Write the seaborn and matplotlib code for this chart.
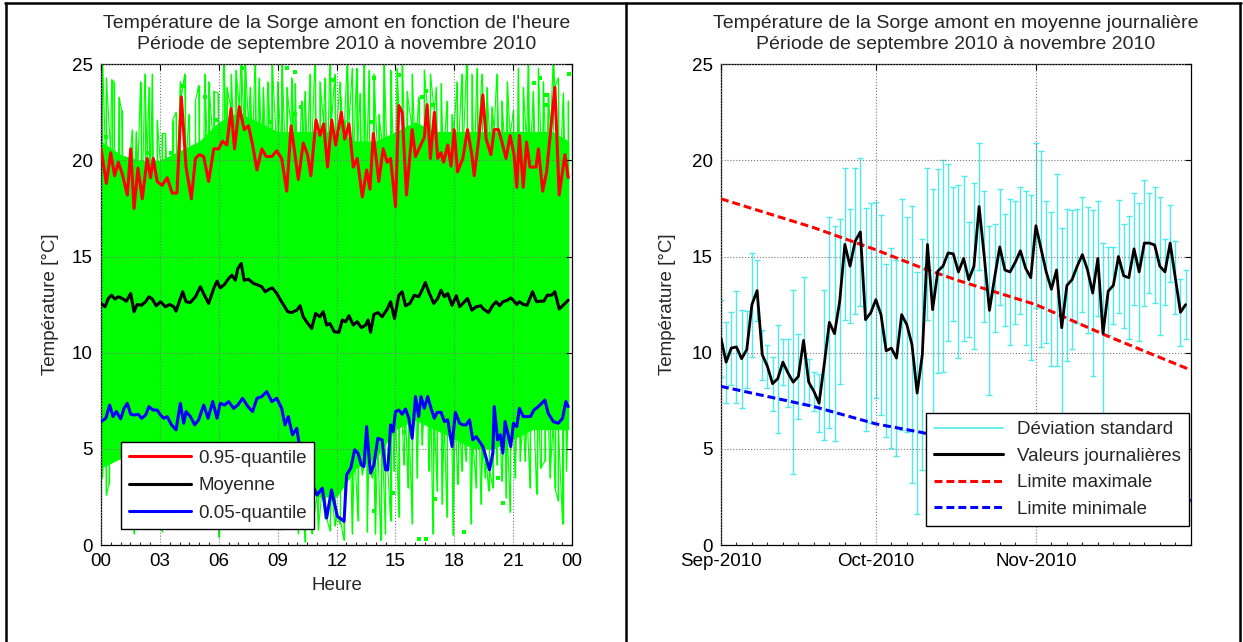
import matplotlib
matplotlib.use('Agg')
import matplotlib.pyplot as plt
import matplotlib.dates as mdates
from matplotlib.lines import Line2D
from matplotlib.ticker import MultipleLocator
import seaborn as sns
import numpy as np
import pandas as pd

# ── Data ─────────────────────────────────────────────────────────────────────
# Left panel: hourly profile (hours of day, °C)
q95_hours = [0.0, 0.27, 0.49, 0.69, 0.88, 1.08, 1.34, 1.51, 1.68, 1.88, 2.10, 2.35, 2.52, 2.66,
             2.86, 3.11, 3.37, 3.62, 3.87, 4.09, 4.33, 4.60, 4.81, 5.01, 5.23, 5.48, 5.74, 5.99,
             6.19, 6.41, 6.62, 6.80, 7.04, 7.29, 7.51, 7.72, 7.94, 8.19, 8.41, 8.70, 8.95, 9.20,
             9.46, 9.68, 9.88, 10.05, 10.30, 10.52, 10.69, 10.95, 11.15, 11.34, 11.54, 11.75, 11.95,
             12.24, 12.41, 12.63, 12.85, 13.05, 13.31, 13.53, 13.70, 13.87, 14.15, 14.37, 14.58,
             14.75, 15.0, 15.17, 15.34, 15.56, 15.85, 16.02, 16.24, 16.47, 16.61, 16.78, 16.98,
             17.15, 17.32, 17.45, 17.66, 17.83, 17.99, 18.16, 18.43, 18.67, 18.89, 19.01, 19.23,
             19.45, 19.62, 19.86, 20.03, 20.25, 20.41, 20.63, 20.84, 21.04, 21.18, 21.31, 21.51,
             21.68, 21.85, 22.16, 22.28, 22.50, 22.70, 22.90, 23.12, 23.34, 23.63, 23.80]
q95_temp = [20.6, 18.8, 20.4, 19.2, 19.9, 19.3, 18.2, 20.6, 17.5, 19.6, 18.0, 20.1, 19.1, 20.1,
            18.9, 18.7, 19.1, 18.3, 18.3, 23.3, 19.65, 18.0, 20.1, 20.3, 20.2, 18.9, 20.6, 20.6,
            21.0, 20.8, 22.7, 20.6, 22.8, 21.6, 21.8, 20.8, 19.5, 20.6, 20.2, 20.2, 20.5, 20.1,
            18.4, 21.8, 20.3, 19.0, 20.9, 20.3, 19.2, 22.1, 21.3, 21.9, 19.65, 22.1, 20.8,
            22.5, 21.1, 21.9, 19.65, 20.1, 18.1, 19.5, 18.5, 21.4, 18.9, 20.6, 19.9,
            20.1, 17.6, 22.85, 22.5, 18.2, 21.6, 20.2, 20.7, 21.2, 22.9, 20.1, 22.5,
            20.1, 20.4, 19.9, 20.8, 19.7, 21.6, 19.4, 20.1, 21.6, 20.3, 19.2, 21.0,
            23.4, 21.1, 20.3, 21.6, 21.6, 21.0, 20.1, 21.3, 20.3, 18.6, 21.3, 18.6,
            20.95, 19.65, 19.65, 20.6, 18.4, 19.4, 21.5, 23.8, 18.2, 20.3, 19.1]

mean_hours = [0.0, 0.20, 0.37, 0.54, 0.71, 0.88, 1.08, 1.29, 1.51, 1.68, 1.84, 2.06, 2.27, 2.44,
              2.61, 2.81, 3.03, 3.28, 3.49, 3.71, 3.82, 4.04, 4.16, 4.33, 4.55, 4.81, 5.06, 5.28,
              5.48, 5.74, 5.91, 6.07, 6.29, 6.50, 6.67, 6.84, 6.97, 7.14, 7.29, 7.51, 7.77, 8.02,
              8.19, 8.36, 8.56, 8.73, 8.95, 9.20, 9.51, 9.71, 9.97, 10.14, 10.30, 10.47, 10.73,
              10.93, 11.15, 11.32, 11.49, 11.66, 11.88,
              12.12, 12.29, 12.46, 12.63, 12.85, 13.05, 13.26, 13.48, 13.60, 13.73, 13.90, 14.10,
              14.32, 14.58, 14.75, 14.95, 15.17, 15.34, 15.51, 15.73, 15.96, 16.18, 16.35, 16.52,
              16.69, 16.95, 17.15, 17.32, 17.49, 17.66, 17.88, 18.10, 18.27, 18.43, 18.67, 18.89,
              19.11, 19.35, 19.48, 19.74, 19.96, 20.13, 20.30, 20.47, 20.70, 20.87, 21.04, 21.18,
              21.31, 21.51, 21.71, 21.98, 22.19, 22.39, 22.56, 22.73, 22.95, 23.12, 23.34, 23.54,
              23.80]
mean_temp = [12.56, 12.39, 12.82, 12.99, 12.79, 12.91, 12.82, 12.68, 13.08, 12.13, 12.51, 12.47,
             12.65, 12.91, 12.79, 12.44, 12.65, 12.39, 12.51, 12.39, 12.16, 12.82, 13.17, 12.65,
             12.61, 12.91, 13.43, 12.96, 12.56, 13.34, 13.72, 13.37, 13.55, 13.86, 14.03, 13.77,
             14.38, 14.64, 13.77, 13.82, 13.6, 13.51, 13.43, 13.17, 13.3, 13.37, 13.08, 12.65,
             12.13, 12.09, 12.21, 12.44, 11.87, 11.61, 11.26, 12.04, 11.87, 12.13, 11.44, 11.52,
             11.09,
             11.06, 11.7, 11.61, 11.92, 11.44, 11.61, 11.3, 11.44, 11.7, 11.06, 11.99, 12.09,
             11.87, 12.27, 12.65, 11.78, 12.99, 13.17, 12.44, 12.56, 12.99, 12.91, 13.25, 13.65,
             13.17, 12.56, 12.82, 13.25, 12.91, 13.08, 12.47, 12.96, 12.39, 12.56, 12.82, 12.21,
             12.39, 12.44, 12.27, 12.09, 12.47, 12.65, 12.44, 12.65, 12.73, 12.85, 12.68, 12.51,
             12.65, 12.51, 12.47, 13.17, 12.65, 12.68, 12.68, 12.99, 12.99, 13.17, 12.27, 12.47,
             12.73]

q05_hours = [0.0, 0.24, 0.44, 0.61, 0.78, 1.0, 1.17, 1.34, 1.51, 1.68, 1.90, 2.06, 2.27, 2.44,
             2.64, 2.86, 3.03, 3.20, 3.37, 3.59, 3.82, 4.04, 4.21, 4.33, 4.55, 4.77, 4.97, 5.23,
             5.45, 5.69, 5.91, 6.07, 6.29, 6.50, 6.75, 6.97, 7.21, 7.48, 7.72, 7.94, 8.19, 8.44,
             8.70, 8.95, 9.20, 9.37, 9.54, 9.75, 9.97, 10.14, 10.4, 10.7, 11.0, 11.27, 11.49, 11.74,
             12.04, 12.17, 12.38, 12.51, 12.72, 12.92, 13.09, 13.26, 13.39, 13.53, 13.65, 13.73,
             13.90, 14.10, 14.32, 14.49, 14.61, 14.75, 14.88, 15.0, 15.17, 15.34, 15.51, 15.68,
             15.85, 16.02, 16.18, 16.30, 16.47, 16.64, 16.81, 16.98, 17.12, 17.32, 17.49, 17.66,
             17.88, 18.05, 18.27, 18.43, 18.60, 18.77, 18.94, 19.11, 19.28, 19.45, 19.62, 19.79,
             19.96, 20.03, 20.20, 20.34, 20.47, 20.58, 20.70, 20.87, 21.01, 21.18, 21.31, 21.51,
             21.71, 21.88, 22.05, 22.28, 22.61, 22.78, 23.04, 23.29, 23.51, 23.68, 23.80]
q05_temp = [6.42, 6.59, 7.28, 6.68, 6.94, 6.56, 7.11, 7.37, 6.8, 6.76, 6.8, 6.59, 6.76, 7.2,
            7.02, 7.02, 6.76, 6.59, 6.68, 6.25, 5.99, 7.37, 6.33, 6.94, 6.68, 6.25, 6.51, 7.28,
            6.59, 7.46, 6.59, 7.37, 7.28, 7.46, 7.11, 7.28, 7.63, 7.2, 6.94, 7.63, 7.72, 7.98,
            7.46, 7.63, 7.11, 6.25, 6.68, 5.73, 6.07, 4.95, 4.2, 3.3, 2.6, 2.96, 1.4, 2.87,
            1.49, 1.4, 1.23, 3.65, 4.0, 4.95, 4.78, 4.17, 4.08, 6.16, 4.6, 3.74,
            4.17, 5.55, 5.47, 3.91, 3.91, 6.25, 5.9, 6.94, 7.02, 6.8, 7.08, 6.59,
            5.55, 7.72, 6.68, 7.72, 7.11, 7.72, 7.11, 6.59, 6.9, 6.9, 6.42, 6.51,
            5.12, 6.9, 6.33, 6.25, 6.25, 6.51, 5.47, 5.64, 5.38, 5.12, 4.52, 3.91,
            4.78, 7.2, 5.47, 5.73, 4.78, 6.42, 5.9, 5.12, 6.33, 6.16, 7.11, 6.68,
            6.68, 6.68, 7.02, 7.2, 7.54, 6.85, 6.42, 6.33, 6.59, 7.46, 7.2]

# Daily curves (green): dense body, spike tips above and below, isolated points
body_hours = [0, 1, 2, 3, 4, 5, 6, 7, 8, 9, 10, 11, 12, 13, 14, 15, 16, 17, 18, 19, 20, 21,
              22, 23, 23.83]
body_top = [21.0, 20.3, 20.0, 20.0, 20.5, 21.0, 22.0, 22.5, 22.0, 21.5, 21.5, 21.5, 21.5, 21.0,
            21.0, 21.5, 22.0, 21.5, 21.5, 21.5, 21.5, 21.5, 21.5, 21.5, 21.0]
body_bottom = [4.0, 4.5, 4.5, 4.5, 4.5, 4.5, 4.5, 4.5, 4.5, 4.5, 3.5, 2.5, 2.5, 4.0, 4.5, 6.0,
               6.5, 6.0, 5.5, 5.0, 5.0, 5.5, 6.0, 6.0, 6.0]

peak_hours = [0.07, 0.27, 0.54, 0.66, 0.91, 1.05, 1.59, 1.79, 2.01, 2.23, 2.44, 2.61, 2.86, 3.11,
              3.28, 3.65, 3.82, 4.04, 4.26, 4.47, 4.81, 4.97, 5.28, 5.48, 5.74, 5.96, 6.24, 6.41,
              6.63, 6.87, 7.14, 7.34, 7.60, 7.85, 8.05, 8.27, 8.49, 8.70, 9.0, 9.2, 9.46, 9.71,
              9.88, 10.22, 10.39, 10.64, 10.9, 11.15, 11.4, 11.66, 11.91, 12.17,
              12.21, 12.41, 12.55, 12.8, 13.02, 13.19, 13.39, 13.65, 13.9, 14.15, 14.41, 14.75,
              15.08, 15.34, 15.59, 15.85, 16.18, 16.47, 16.78, 17.08, 17.32, 17.62, 17.88, 18.13,
              18.38, 18.64, 18.89, 19.15, 19.4, 19.65, 19.91, 20.16, 20.41, 20.7, 21.01, 21.26,
              21.51, 21.77, 22.02, 22.28, 22.53, 22.79, 23.04, 23.3, 23.55, 23.8]
peak_temp = [25.5, 24.3, 24.2, 24.1, 23.3, 22.6, 21.6, 21.5, 24.1, 24.5, 23.8, 24.5, 22.1, 21.4,
             21.4, 22.1, 22.5, 24.1, 24.5, 22.4, 23.1, 23.9, 24.5, 24.1, 23.6, 23.5, 25.5, 23.8,
             24.5, 24.7, 25.5, 25.5, 23.8, 25.5, 24.3, 23.8, 24.1, 25.5, 24.1, 25.5, 23.8, 24.3,
             24.0, 23.1, 23.6, 24.5, 25.5, 24.1, 24.3, 25.5, 24.5, 24.1,
             23.3, 22.1, 25.5, 24.8, 24.8, 23.5, 25.5, 24.7, 24.5, 22.4, 25.5, 24.7,
             24.8, 25.5, 23.6, 24.5, 23.3, 24.7, 24.5, 23.8, 24.0, 23.1, 22.4, 24.1,
             24.5, 25.5, 24.5, 24.8, 24.5, 23.8, 22.8, 24.5, 23.1, 24.1, 22.6, 24.8,
             23.8, 25.5, 23.6, 24.8, 24.1, 23.5, 25.5, 24.3, 23.5, 23.1]

trough_hours = [0.07, 0.27, 0.41, 0.58, 0.83, 1.68, 3.11, 5.99, 9.2, 10.05, 10.39, 10.73, 11.07,
                11.4, 11.66, 11.91,
                12.17, 12.38, 12.63, 12.8, 13.09, 13.31, 13.56, 13.82, 13.98, 14.24, 14.49, 14.75,
                14.92, 15.17, 15.42, 15.63, 15.85, 16.1, 16.35, 16.69, 16.9, 17.12, 17.37, 17.62,
                17.93, 18.16, 18.38, 18.6, 18.84, 19.11, 19.35, 19.57, 19.74, 19.96, 20.16, 20.41,
                20.63, 20.84, 21.09, 21.35, 21.6, 21.85, 22.19, 22.39, 22.61, 22.87, 23.12, 23.29,
                23.51, 23.71]
trough_temp = [3.5, 2.6, 3.2, 4.3, 4.5, 0.6, 0.7, 0.4, 0.8, 0.6, 0.15, 0.6, 0.8, 1.4, 0.75, 1.0,
               1.1, 0.24, 4.18, 0.58, 1.27, 3.66, 0.67, 3.49, 0.58, 0.24, 0.58, 1.27,
               3.84, 1.44, 4.18, 2.98, 1.1, 3.49, 5.2, 3.84, 0.58, 2.81, 2.12, 1.44,
               0.5, 3.15, 3.84, 4.35, 1.1, 2.98, 2.12, 3.49, 2.81, 2.98, 4.18, 3.32,
               2.47, 1.7, 3.49, 4.35, 4.35, 2.98, 2.64, 4.0, 4.35, 3.49, 2.98, 2.3,
               1.1, 3.84]

dot_hours = [0.24, 2.4, 3.54, 4.16, 5.31, 5.92, 7.17, 8.61, 9.49, 9.88, 9.88, 10.17, 11.78,
             13.73, 13.9, 15.2, 16.35, 16.57, 16.91, 22.06, 22.36, 22.66, 22.66, 23.83,
             13.9, 14.88, 15.42, 16.22, 16.57, 17.03, 18.47, 20.21, 20.5]
dot_temp = [21.2, 20.4, 20.4, 23.85, 23.3, 22.1, 24.8, 22.0, 24.8, 24.6, 22.4, 22.8, 24.2,
            22.0, 24.3, 24.45, 23.3, 23.6, 22.9, 24.0, 24.3, 23.4, 22.9, 24.5,
            1.78, 2.72, 5.9, 0.3, 0.3, 2.4, 0.7, 3.5, 2.2]

# Right panel: daily mean and standard deviation, 1 Sep - 30 Nov 2010
day_mean = [10.76, 9.51, 10.24, 10.3, 9.69, 10.16, 12.5, 13.23, 9.9, 9.29,
            8.39, 8.65, 9.51, 8.94, 8.47, 8.77, 10.64, 8.47, 7.99, 7.38,
            9.38, 11.58, 10.99, 12.67, 15.63, 14.5, 15.8, 16.28, 11.72, 12.07,
            12.76, 11.98, 10.1, 10.24, 9.72, 11.98, 11.46, 10.42, 7.9, 9.9,
            15.63, 12.24, 14.24, 14.5, 15.19, 15.14, 14.2, 14.9, 13.8, 14.5,
            17.6, 15.0, 12.2, 13.9, 15.5, 14.3, 14.2, 14.7, 15.3, 14.4,
            13.9, 16.6, 15.4, 14.2, 13.3, 14.3, 11.3, 13.5, 13.8, 14.5,
            15.1, 14.3, 13.1, 14.9, 11.0, 13.2, 13.5, 15.0, 14.0, 13.9,
            15.4, 14.2, 15.7, 15.7, 15.6, 14.5, 14.2, 15.7, 13.9, 12.1, 12.5]
day_std = [2.0, 2.1, 1.9, 2.9, 2.55, 2.0, 2.7, 1.6, 1.3, 1.1,
           1.4, 2.8, 1.2, 1.75, 4.8, 2.2, 3.3, 1.2, 1.0, 1.5,
           3.9, 5.5, 5.6, 4.3, 3.95, 2.95, 3.8, 3.86, 5.8, 5.7,
           5.1, 5.2, 4.5, 5.2, 5.1, 6.0, 5.6, 7.2, 6.3, 6.0,
           3.95, 6.25, 5.3, 5.5, 4.6, 3.5, 4.5, 4.3, 3.0, 4.3,
           3.3, 3.4, 4.4, 2.8, 3.0, 2.9, 3.8, 3.2, 3.3, 4.0,
           4.3, 4.3, 5.1, 3.7, 4.0, 5.0, 5.2, 3.95, 3.6, 2.95,
           3.0, 3.3, 4.3, 3.0, 4.7, 2.3, 2.0, 2.95, 2.7, 3.2,
           2.9, 3.6, 3.26, 2.6, 3.0, 3.6, 1.7, 2.0, 1.9, 1.75, 1.8]

lim_max_dates = ['2010-09-01', '2010-09-19', '2010-10-01', '2010-10-10', '2010-10-17',
                 '2010-11-01', '2010-11-15', '2010-12-01']
lim_max_temp = [18.0, 16.5, 15.35, 14.4, 13.75, 12.5, 10.85, 9.1]
lim_min_dates = ['2010-09-01', '2010-09-19', '2010-10-01', '2010-10-10', '2010-11-01',
                 '2010-12-01']
lim_min_temp = [8.25, 7.2, 6.3, 5.85, 4.3, 2.3]

hour_ticks = [0, 3, 6, 9, 12, 15, 18, 21, 24]
hour_labels = ['00', '03', '06', '09', '12', '15', '18', '21', '00']

# ── Style ────────────────────────────────────────────────────────────────────
GREEN = '#00ff00'
CYAN = '#4deaea'
GRID = '#7a7a7a'
DASH = (2.6, 1.3)
FS = 13.5

sns.set_style('white')
plt.rcParams['font.family'] = ['Liberation Sans', 'DejaVu Sans']
plt.rcParams['font.size'] = FS

fig = plt.figure(figsize=(12.43, 6.42), dpi=100)
ax1 = fig.add_axes([0.0813, 0.151, 0.379, 0.749])
ax2 = fig.add_axes([0.580, 0.151, 0.378, 0.749])

# ── Left panel ───────────────────────────────────────────────────────────────
ax1.fill_between(body_hours, body_bottom, body_top, color=GREEN, lw=0, zorder=1)
ax1.vlines(peak_hours, 19, peak_temp, color=GREEN, lw=1.0, zorder=1)
ax1.vlines(trough_hours, trough_temp, 7, color=GREEN, lw=1.0, zorder=1)
# strands of daily curves running between the quantiles and the extreme tips
sns.lineplot(x=q95_hours + peak_hours, y=q95_temp + peak_temp, ax=ax1, color=GREEN,
             lw=0.8, estimator=None, sort=True, zorder=1)
sns.lineplot(x=q05_hours + trough_hours, y=q05_temp + trough_temp, ax=ax1, color=GREEN,
             lw=0.8, estimator=None, sort=True, zorder=1)
ax1.scatter(dot_hours, dot_temp, s=9, marker='s', color=GREEN, lw=0, zorder=1)

sns.lineplot(x=q95_hours, y=q95_temp, ax=ax1, color='#ff0000', lw=2.2, sort=False, zorder=3)
sns.lineplot(x=mean_hours, y=mean_temp, ax=ax1, color='black', lw=2.2, sort=False, zorder=3)
sns.lineplot(x=q05_hours, y=q05_temp, ax=ax1, color='#0000ff', lw=2.2, sort=False, zorder=3)

ax1.set_xlim(0, 24)
ax1.set_ylim(0, 25)
ax1.set_xticks(hour_ticks)
ax1.set_xticklabels(hour_labels)
ax1.set_yticks([0, 5, 10, 15, 20, 25])
ax1.xaxis.set_minor_locator(MultipleLocator(0.5))
ax1.set_xlabel('Heure', fontsize=FS, labelpad=5)
ax1.set_ylabel('Température [°C]', fontsize=FS, labelpad=9)
ax1.set_title("Température de la Sorge amont en fonction de l'heure\n"
              "Période de septembre 2010 à novembre 2010", fontsize=14, pad=11, linespacing=1.3)

leg1_handles = [Line2D([], [], color='#ff0000', lw=2.2),
                Line2D([], [], color='black', lw=2.2),
                Line2D([], [], color='#0000ff', lw=2.2)]
leg1 = ax1.legend(leg1_handles, ['0.95-quantile', 'Moyenne', '0.05-quantile'],
                  loc='lower left', bbox_to_anchor=(0.035, 0.025), fontsize=FS,
                  frameon=True, fancybox=False, framealpha=1, edgecolor='black',
                  handlelength=3.3, borderpad=0.4, labelspacing=0.55, handletextpad=0.4,
                  borderaxespad=0.2)
leg1.get_frame().set_linewidth(1.0)
leg1.set_zorder(5)

# ── Right panel ──────────────────────────────────────────────────────────────
dates = pd.date_range('2010-09-01', '2010-11-30', freq='D')
ax2.errorbar(dates, day_mean, yerr=day_std, fmt='none', ecolor=CYAN, elinewidth=1.0,
             capsize=2.5, capthick=1.0, zorder=2)
sns.lineplot(x=pd.to_datetime(lim_max_dates), y=lim_max_temp, ax=ax2, color='#ff0000',
             lw=2.2, zorder=3)
ax2.lines[-1].set_dashes(DASH)
sns.lineplot(x=pd.to_datetime(lim_min_dates), y=lim_min_temp, ax=ax2, color='#0000ff',
             lw=2.2, zorder=3)
ax2.lines[-1].set_dashes(DASH)
sns.lineplot(x=dates, y=day_mean, ax=ax2, color='black', lw=2.0, zorder=4)

ax2.set_xlim(pd.Timestamp('2010-09-01'), pd.Timestamp('2010-12-01'))
ax2.set_ylim(0, 25)
ax2.set_yticks([0, 5, 10, 15, 20, 25])
ax2.xaxis.set_major_locator(mdates.MonthLocator(bymonth=[9, 10, 11]))
ax2.xaxis.set_major_formatter(mdates.DateFormatter('%b-%Y'))
ax2.xaxis.set_minor_locator(mdates.DayLocator(bymonthday=[4, 7, 10, 13, 16, 19, 22, 25, 28]))
ax2.set_xlabel('')
ax2.set_ylabel('Température [°C]', fontsize=FS, labelpad=11)
ax2.set_title("Température de la Sorge amont en moyenne journalière\n"
              "Période de septembre 2010 à novembre 2010", fontsize=14, pad=11, linespacing=1.3)

leg2_handles = [Line2D([], [], color=CYAN, lw=1.2),
                Line2D([], [], color='black', lw=2.2),
                Line2D([], [], color='#ff0000', lw=2.2, dashes=DASH),
                Line2D([], [], color='#0000ff', lw=2.2, dashes=DASH)]
leg2 = ax2.legend(leg2_handles, ['Déviation standard', 'Valeurs journalières',
                                 'Limite maximale', 'Limite minimale'],
                  loc='lower right', bbox_to_anchor=(1.0, 0.035), fontsize=FS,
                  frameon=True, fancybox=False, framealpha=1, edgecolor='black',
                  handlelength=3.7, borderpad=0.45, labelspacing=0.5, handletextpad=0.7,
                  borderaxespad=0.1)
leg2.get_frame().set_linewidth(1.0)
leg2.set_zorder(5)

# ── Shared MATLAB-like axes styling ──────────────────────────────────────────
for ax in (ax1, ax2):
    ax.grid(True, which='major', linestyle=':', color=GRID, lw=0.8)
    ax.set_axisbelow(False)
    for gl in ax.get_xgridlines() + ax.get_ygridlines():
        gl.set_zorder(2.5)
    ax.tick_params(which='major', direction='in', top=True, right=True, length=4,
                   width=0.8, labelsize=FS, colors='black', pad=6)
    ax.tick_params(which='minor', direction='in', bottom=True, top=False, length=2.5, width=0.8)
    for sp in ax.spines.values():
        sp.set_color('black')
        sp.set_linewidth(0.9)

# ── Table frame around the two panels ────────────────────────────────────────
for xs, ys in [([0.004, 0.998], [0.995, 0.995]), ([0.005, 0.005], [0.0, 0.995]),
               ([0.5036, 0.5036], [0.0, 0.995]), ([0.9975, 0.9975], [0.0, 0.995])]:
    fig.add_artist(Line2D(xs, ys, transform=fig.transFigure, color='black', lw=1.8))

fig.savefig('out.png', dpi=100, facecolor='white')
